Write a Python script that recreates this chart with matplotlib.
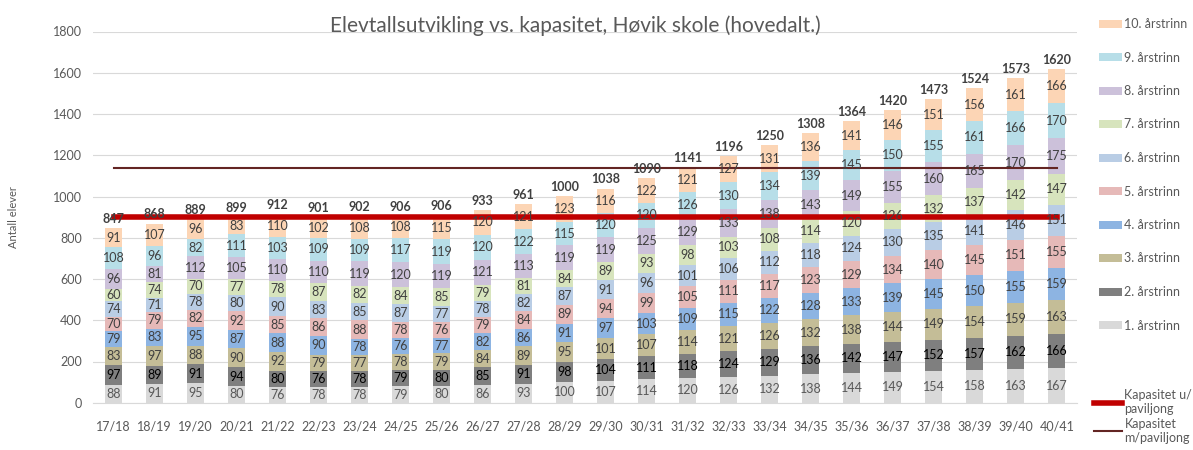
import numpy as np
import matplotlib.pyplot as plt
from matplotlib.patches import Patch
from matplotlib.lines import Line2D

plt.rcParams['font.family'] = ['Lato', 'DejaVu Sans']

years = ["17/18", "18/19", "19/20", "20/21", "21/22", "22/23", "23/24", "24/25",
         "25/26", "26/27", "27/28", "28/29", "29/30", "30/31", "31/32", "32/33",
         "33/34", "34/35", "35/36", "36/37", "37/38", "38/39", "39/40", "40/41"]

trinn_names = ["1. årstrinn", "2. årstrinn", "3. årstrinn", "4. årstrinn", "5. årstrinn",
               "6. årstrinn", "7. årstrinn", "8. årstrinn", "9. årstrinn", "10. årstrinn"]

trinn1 = [88, 91, 95, 80, 76, 78, 78, 79, 80, 86, 93, 100, 107, 114, 120, 126, 132, 138, 144, 149, 154, 158, 163, 167]
trinn2 = [97, 89, 91, 94, 80, 76, 78, 79, 80, 85, 91, 98, 104, 111, 118, 124, 129, 136, 142, 147, 152, 157, 162, 166]
trinn3 = [83, 97, 88, 90, 92, 79, 77, 78, 79, 84, 89, 95, 101, 107, 114, 121, 126, 132, 138, 144, 149, 154, 159, 163]
trinn4 = [79, 83, 95, 87, 88, 90, 78, 76, 77, 82, 86, 91, 97, 103, 109, 115, 122, 128, 133, 139, 145, 150, 155, 159]
trinn5 = [70, 79, 82, 92, 85, 86, 88, 78, 76, 79, 84, 89, 94, 99, 105, 111, 117, 123, 129, 134, 140, 145, 151, 155]
trinn6 = [74, 71, 78, 80, 90, 83, 85, 87, 77, 78, 82, 87, 91, 96, 101, 106, 112, 118, 124, 130, 135, 141, 146, 151]
trinn7 = [60, 74, 70, 77, 78, 87, 82, 84, 85, 79, 81, 84, 89, 93, 98, 103, 108, 114, 120, 126, 132, 137, 142, 147]
trinn8 = [96, 81, 112, 105, 110, 110, 119, 120, 119, 121, 113, 119, 119, 125, 129, 133, 138, 143, 149, 155, 160, 165, 170, 175]
trinn9 = [108, 96, 82, 111, 103, 109, 109, 117, 119, 120, 122, 115, 120, 120, 126, 130, 134, 139, 145, 150, 155, 161, 166, 170]
trinn10 = [91, 107, 96, 83, 110, 102, 108, 108, 115, 120, 121, 123, 116, 122, 121, 127, 131, 136, 141, 146, 151, 156, 161, 166]

totals = [847, 868, 889, 899, 912, 901, 902, 906, 906, 933, 961, 1000, 1038, 1090,
          1141, 1196, 1250, 1308, 1364, 1420, 1473, 1524, 1573, 1620]

kap_u_pav = 900
kap_m_pav = 1140

colors = ["#D9D9D9", "#7F7F7F", "#C4BD97", "#8DB4E2", "#E6B9B8",
          "#B9CDE5", "#D7E4BD", "#CCC1DA", "#B7DEE8", "#FCD5B5"]
label_colors = ["#595959", "#000000"] + ["#404040"] * 8

series = [trinn1, trinn2, trinn3, trinn4, trinn5, trinn6, trinn7, trinn8, trinn9, trinn10]

fig = plt.figure(figsize=(11.93, 4.5), dpi=100)
ax = fig.add_axes([0.078, 0.105, 0.825, 0.825])

x = np.arange(len(years))
bottom = np.zeros(len(years))
for vals, col, lcol, name in zip(series, colors, label_colors, trinn_names):
    vals = np.array(vals)
    bars = ax.bar(x, vals, 0.42, bottom=bottom, color=col, label=name, zorder=2)
    ax.bar_label(bars, labels=[str(v) for v in vals], label_type='center',
                 fontsize=9, color=lcol, zorder=4)
    bottom += vals

# totals above each bar
for xi, top, tot in zip(x, bottom, totals):
    ax.text(xi, top + 16, str(tot), ha='center', va='bottom', fontsize=9,
            fontweight='bold', color='#404040', zorder=5)

ax.plot([x[0], x[-1]], [kap_u_pav, kap_u_pav], color="#C00000", lw=4, zorder=3)
ax.plot([x[0], x[-1]], [kap_m_pav, kap_m_pav], color="#632523", lw=1.5, zorder=3)

ax.set_xlim(-0.5, len(years) - 0.5)
ax.set_ylim(0, 1800)
ax.set_yticks(range(0, 1801, 200))
ax.set_xticks(x)
ax.set_xticklabels(years)
ax.tick_params(axis='both', length=0, labelsize=9, colors='#595959')
ax.tick_params(axis='y', pad=8)
ax.tick_params(axis='x', pad=13)
ax.grid(axis='y', color='#D9D9D9', lw=0.8, zorder=0)
for s in ['top', 'right', 'left']:
    ax.spines[s].set_visible(False)
ax.spines['bottom'].set_color('#D9D9D9')
ax.set_ylabel("Antall elever", fontsize=8, color='#595959', labelpad=24)

fig.text(0.482, 0.943, "Elevtallsutvikling vs. kapasitet, Høvik skole (hovedalt.)",
         ha='center', va='center', fontsize=15, color='#595959')

bar_handles = [Patch(facecolor=c, label=n) for c, n in zip(colors, trinn_names)][::-1]
fig.legend(handles=bar_handles, loc='upper left', bbox_to_anchor=(0.912, 0.985),
           frameon=False, fontsize=9, labelspacing=1.72, handlelength=1.8,
           handleheight=0.6, handletextpad=0.2, labelcolor='#595959')
line_handles = [Line2D([], [], color="#C00000", lw=4, label="Kapasitet u/\npaviljong"),
                Line2D([], [], color="#632523", lw=1.5, label="Kapasitet\nm/paviljong")]
fig.legend(handles=line_handles, loc='upper left', bbox_to_anchor=(0.908, 0.16),
           frameon=False, fontsize=9, labelspacing=0.2, handlelength=2.2,
           handletextpad=0.2, labelcolor='#595959')

fig.savefig("out.png", dpi=100)
